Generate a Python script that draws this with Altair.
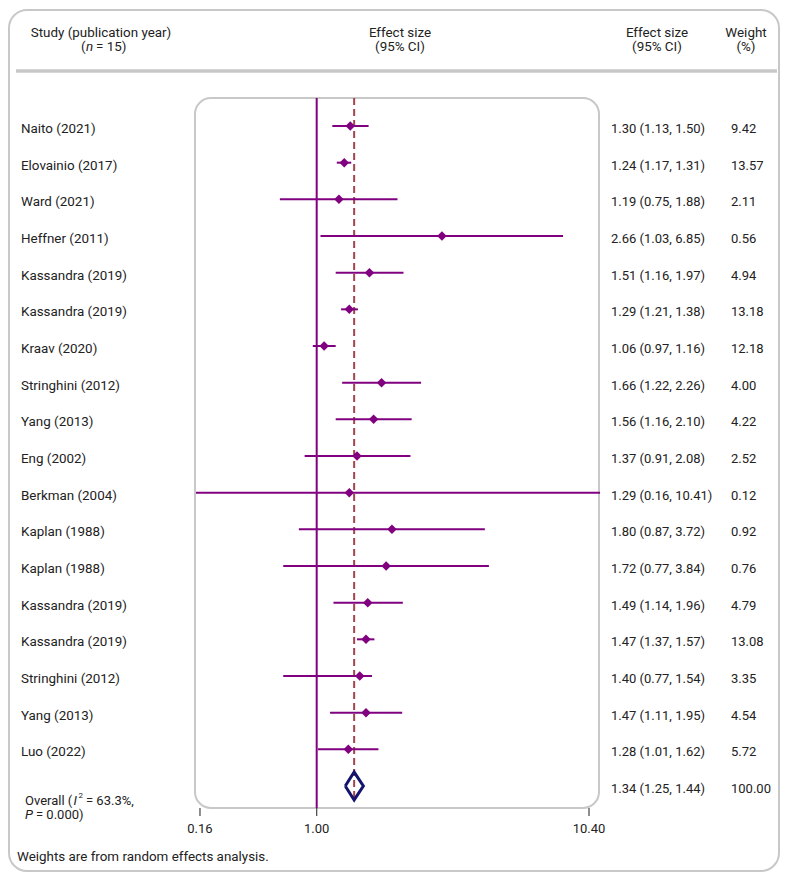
import altair as alt
import pandas as pd

studies = ["Naito (2021)", "Elovainio (2017)", "Ward (2021)", "Heffner (2011)",
           "Kassandra (2019)", "Kassandra (2019)", "Kraav (2020)", "Stringhini (2012)",
           "Yang (2013)", "Eng (2002)", "Berkman (2004)", "Kaplan (1988)",
           "Kaplan (1988)", "Kassandra (2019)", "Kassandra (2019)", "Stringhini (2012)",
           "Yang (2013)", "Luo (2022)"]
es = [1.30, 1.24, 1.19, 2.66, 1.51, 1.29, 1.06, 1.66, 1.56, 1.37, 1.29, 1.80, 1.72, 1.49, 1.47, 1.40, 1.47, 1.28]
lo = [1.13, 1.17, 0.75, 1.03, 1.16, 1.21, 0.97, 1.22, 1.16, 0.91, 0.16, 0.87, 0.77, 1.14, 1.37, 0.77, 1.11, 1.01]
hi = [1.50, 1.31, 1.88, 6.85, 1.97, 1.38, 1.16, 2.26, 2.10, 2.08, 10.41, 3.72, 3.84, 1.96, 1.57, 1.54, 1.95, 1.62]
weights = ["9.42", "13.57", "2.11", "0.56", "4.94", "13.18", "12.18", "4.00", "4.22", "2.52",
           "0.12", "0.92", "0.76", "4.79", "13.08", "3.35", "4.54", "5.72"]
overall_es, overall_lo, overall_hi, overall_w = 1.34, 1.25, 1.44, "100.00"
tick_values = [0.4018, 1.0, 8.393]
tick_labels = ["0.16", "1.00", "10.40"]

PURPLE = "#800080"
GRAY = "#c8c8c8"
TXT = "#222222"
FONT = "Roboto"
FS = 13
FSW = 13.4

n = len(studies)
df = pd.DataFrame({
    "row": list(range(n)),
    "study": studies,
    "es": es, "lo": lo, "hi": hi,
    "es_txt": [f"{e:.2f} ({l:.2f}, {h:.2f})" for e, l, h in zip(es, lo, hi)],
    "w": weights,
})
ov_row = n
ov_df = pd.DataFrame({"row": [ov_row], "es_txt": [f"{overall_es:.2f} ({overall_lo:.2f}, {overall_hi:.2f})"],
                      "w": [overall_w]})
half = 0.38
dia_df = pd.DataFrame({
    "x": [overall_lo, overall_es, overall_hi, overall_es, overall_lo],
    "row": [ov_row, ov_row - half, ov_row, ov_row + half, ov_row],
    "o": [0, 1, 2, 3, 4],
})
tick_df = pd.DataFrame({"v": tick_values, "lab": tick_labels})
one = pd.DataFrame({"a": [0]})

xs = alt.Scale(type="log", domain=[0.3895, 9.146], range=[188, 592], clamp=True)
ys = alt.Scale(domain=[0, ov_row], range=[118, 778])
Y = alt.Y("row:Q", scale=ys, axis=None)

def X(f):
    return alt.X(f, scale=xs, axis=None)

outer = alt.Chart(one).mark_rect(filled=False, stroke=GRAY, strokeWidth=2, cornerRadius=18).encode(
    x=alt.value(1), x2=alt.value(771), y=alt.value(2), y2=alt.value(863))
inner = alt.Chart(one).mark_rect(filled=False, stroke=GRAY, strokeWidth=2, cornerRadius=16).encode(
    x=alt.value(187), x2=alt.value(591), y=alt.value(90), y2=alt.value(800))
hline = alt.Chart(one).mark_rule(stroke=GRAY, strokeWidth=3.5).encode(
    x=alt.value(8), x2=alt.value(769), y=alt.value(63))

null_line = alt.Chart(pd.DataFrame({"v": [1.0]})).mark_rule(color=PURPLE, strokeWidth=2).encode(
    x=X("v:Q"), y=alt.value(90), y2=alt.value(800))
ov_line = alt.Chart(pd.DataFrame({"v": [overall_es]})).mark_rule(
    color="#a3444f", strokeWidth=2, strokeDash=[7, 4]).encode(
    x=X("v:Q"), y=alt.value(90), y2=alt.value(792))

ci = alt.Chart(df).mark_rule(color=PURPLE, strokeWidth=2).encode(x=X("lo:Q"), x2="hi:Q", y=Y)
pts = alt.Chart(df).mark_point(shape="diamond", filled=True, size=90, color=PURPLE, opacity=1).encode(
    x=X("es:Q"), y=Y)
dia = alt.Chart(dia_df).mark_line(color="#14146e", strokeWidth=3, strokeJoin="miter").encode(
    x=X("x:Q"), y=Y, order="o:Q")

ticks = alt.Chart(tick_df).mark_rule(color="#444444", strokeWidth=1.2).encode(
    x=X("v:Q"), y=alt.value(800), y2=alt.value(808))
tick_txt = alt.Chart(tick_df).mark_text(font=FONT, fontSize=FS, color=TXT, baseline="middle").encode(
    x=X("v:Q"), y=alt.value(821), text="lab:N")

def txt(data, field, x, align="left", dy=3, size=FS):
    return alt.Chart(data).mark_text(font=FONT, fontSize=size, color=TXT, align=align,
                                     baseline="middle", dy=dy).encode(
        x=alt.value(x), y=Y, text=f"{field}:N")

study_txt = txt(df, "study", 13, size=FSW)
es_txt = txt(df, "es_txt", 603)
w_txt = txt(df, "w", 723)
ov_es_txt = txt(ov_df, "es_txt", 603)
ov_w_txt = txt(ov_df, "w", 723)

def label(s, x, y, align="left", style="normal", size=FSW):
    return alt.Chart(one).mark_text(text=s, font=FONT, fontSize=size, color=TXT, align=align,
                                    baseline="middle", fontStyle=style).encode(
        x=alt.value(x), y=alt.value(y))

labels = [
    label("Study (publication year)", 93, 24.5, "center"),
    label("(", 73, 38.5, "left"), label("n", 78, 38.5, "left", "italic"), label("= 15)", 88, 38.5, "left"),
    label("Effect size", 392, 24.5, "center"),
    label("(95% CI)", 392, 38.5, "center"),
    label("Effect size", 649, 24.5, "center"),
    label("(95% CI)", 649, 38.5, "center"),
    label("Weight", 738, 24.5, "center"),
    label("(%)", 738, 38.5, "center"),
    label("Overall (", 17, 792.5, size=FS), label("I", 65.5, 792.5, "left", "italic", FS),
    label("2", 70.5, 787.5, "left", "normal", 8), label("= 63.3%,", 78, 792.5, size=FS),
    label("P", 17, 806.5, "left", "italic", FS), label("= 0.000)", 28, 806.5, size=FS),
    label("Weights are from random effects analysis.", 9, 849),
]

chart = alt.layer(outer, inner, hline, null_line, ov_line, ci, pts, dia, ticks, tick_txt,
                  study_txt, es_txt, w_txt, ov_es_txt, ov_w_txt, *labels).properties(
    width=772, height=864, padding=0, autosize=alt.AutoSizeParams(type="none")
).configure_view(strokeWidth=0)

chart.save("out.html", embed_options={"renderer": "svg", "actions": False})
